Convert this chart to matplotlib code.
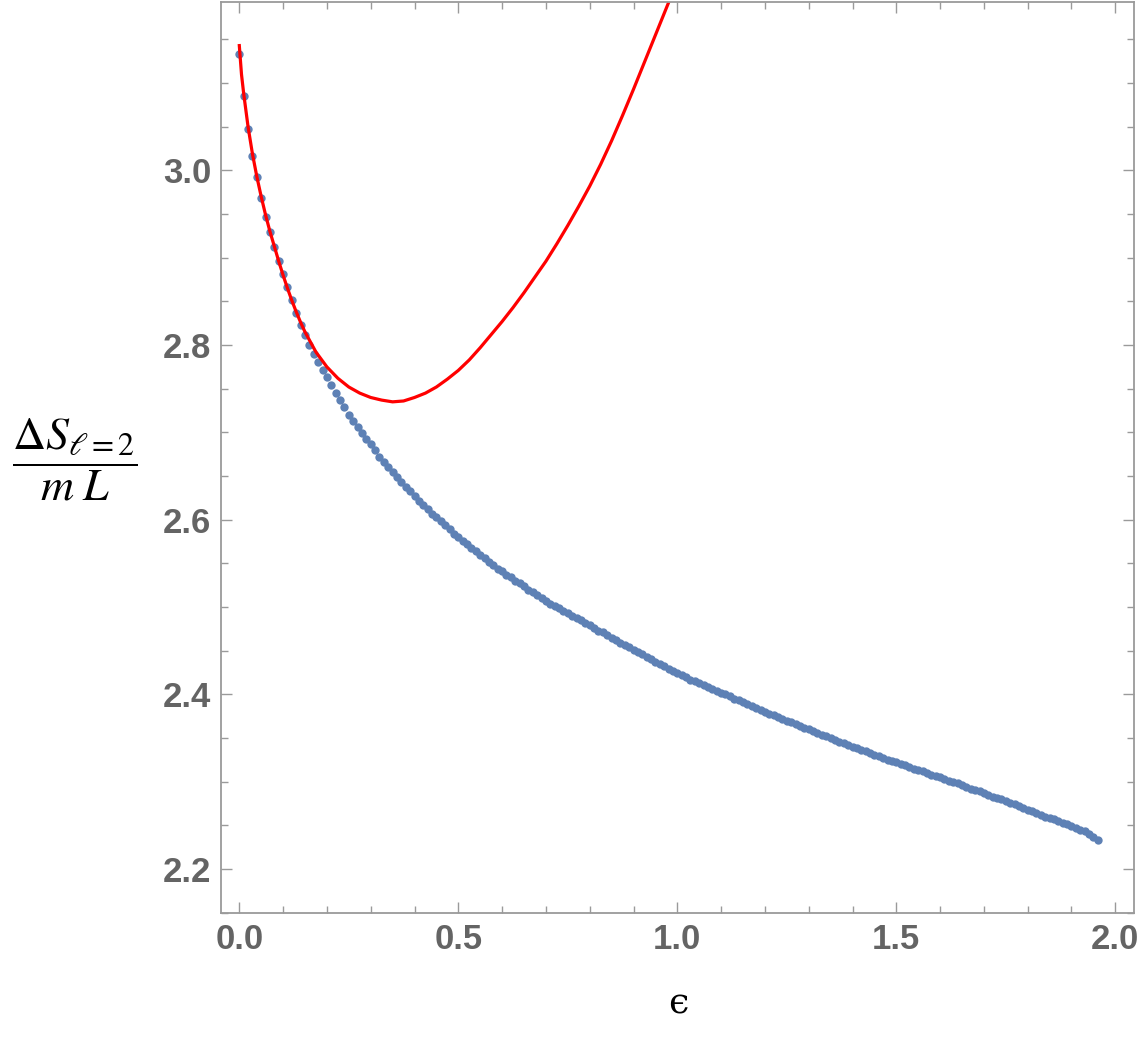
import numpy as np
import matplotlib.pyplot as plt
from matplotlib.ticker import MultipleLocator

# numerical data (blue dots)
eps_num = [0.00, 0.01, 0.02, 0.03, 0.04, 0.05, 0.06, 0.07, 0.08, 0.09,
           0.10, 0.11, 0.12, 0.13, 0.14, 0.15, 0.16, 0.17, 0.18, 0.19,
           0.20, 0.21, 0.22, 0.23, 0.24, 0.25, 0.26, 0.27, 0.28, 0.29,
           0.30, 0.31, 0.32, 0.33, 0.34, 0.35, 0.36, 0.37, 0.38, 0.39,
           0.40, 0.41, 0.42, 0.43, 0.44, 0.45, 0.46, 0.47, 0.48, 0.49,
           0.50, 0.51, 0.52, 0.53, 0.54, 0.55, 0.56, 0.57, 0.58, 0.59,
           0.60, 0.61, 0.62, 0.63, 0.64, 0.65, 0.66, 0.67, 0.68, 0.69,
           0.70, 0.71, 0.72, 0.73, 0.74, 0.75, 0.76, 0.77, 0.78, 0.79,
           0.80, 0.81, 0.82, 0.83, 0.84, 0.85, 0.86, 0.87, 0.88, 0.89,
           0.90, 0.91, 0.92, 0.93, 0.94, 0.95, 0.96, 0.97, 0.98, 0.99,
           1.00, 1.01, 1.02, 1.03, 1.04, 1.05, 1.06, 1.07, 1.08, 1.09,
           1.10, 1.11, 1.12, 1.13, 1.14, 1.15, 1.16, 1.17, 1.18, 1.19,
           1.20, 1.21, 1.22, 1.23, 1.24, 1.25, 1.26, 1.27, 1.28, 1.29,
           1.30, 1.31, 1.32, 1.33, 1.34, 1.35, 1.36, 1.37, 1.38, 1.39,
           1.40, 1.41, 1.42, 1.43, 1.44, 1.45, 1.46, 1.47, 1.48, 1.49,
           1.50, 1.51, 1.52, 1.53, 1.54, 1.55, 1.56, 1.57, 1.58, 1.59,
           1.60, 1.61, 1.62, 1.63, 1.64, 1.65, 1.66, 1.67, 1.68, 1.69,
           1.70, 1.71, 1.72, 1.73, 1.74, 1.75, 1.76, 1.77, 1.78, 1.79,
           1.80, 1.81, 1.82, 1.83, 1.84, 1.85, 1.86, 1.87, 1.88, 1.89,
           1.90, 1.91, 1.92, 1.93, 1.94, 1.95, 1.96]
dS_num = [3.133, 3.085, 3.047, 3.017, 2.992, 2.968, 2.947, 2.930, 2.912, 2.896,
          2.881, 2.866, 2.852, 2.837, 2.823, 2.811, 2.800, 2.790, 2.781, 2.772,
          2.763, 2.754, 2.745, 2.737, 2.729, 2.720, 2.713, 2.706, 2.699, 2.693,
          2.687, 2.680, 2.672, 2.666, 2.660, 2.655, 2.649, 2.643, 2.638, 2.633,
          2.627, 2.622, 2.617, 2.612, 2.607, 2.603, 2.599, 2.594, 2.589, 2.584,
          2.580, 2.576, 2.572, 2.568, 2.564, 2.560, 2.556, 2.552, 2.548, 2.544,
          2.541, 2.537, 2.534, 2.530, 2.527, 2.524, 2.520, 2.517, 2.514, 2.510,
          2.507, 2.504, 2.501, 2.499, 2.496, 2.493, 2.490, 2.487, 2.485, 2.482,
          2.479, 2.476, 2.473, 2.471, 2.468, 2.465, 2.462, 2.459, 2.457, 2.454,
          2.451, 2.448, 2.446, 2.443, 2.440, 2.437, 2.435, 2.432, 2.429, 2.427,
          2.424, 2.422, 2.420, 2.417, 2.415, 2.413, 2.411, 2.409, 2.406, 2.404,
          2.402, 2.400, 2.398, 2.395, 2.393, 2.391, 2.389, 2.387, 2.384, 2.382,
          2.380, 2.378, 2.376, 2.374, 2.372, 2.370, 2.368, 2.366, 2.364, 2.362,
          2.360, 2.358, 2.356, 2.354, 2.352, 2.350, 2.348, 2.346, 2.344, 2.342,
          2.340, 2.338, 2.336, 2.335, 2.333, 2.331, 2.329, 2.327, 2.325, 2.324,
          2.322, 2.320, 2.319, 2.317, 2.315, 2.313, 2.312, 2.310, 2.308, 2.307,
          2.305, 2.303, 2.301, 2.300, 2.298, 2.296, 2.294, 2.292, 2.291, 2.289,
          2.287, 2.285, 2.283, 2.281, 2.280, 2.278, 2.276, 2.274, 2.272, 2.270,
          2.268, 2.266, 2.264, 2.262, 2.260, 2.258, 2.257, 2.255, 2.253, 2.251,
          2.249, 2.247, 2.245, 2.243, 2.240, 2.237, 2.233]

# small-eps approximation (red curve)
eps_approx = [0.00, 0.005, 0.01, 0.02, 0.03, 0.04, 0.05, 0.06, 0.07, 0.08,
              0.09, 0.10, 0.11, 0.12, 0.13, 0.14, 0.15, 0.175, 0.20, 0.225,
              0.25, 0.275, 0.30, 0.325, 0.35, 0.375, 0.40, 0.425, 0.45, 0.475,
              0.50, 0.525, 0.55, 0.575, 0.60, 0.625, 0.65, 0.675, 0.70, 0.725,
              0.75, 0.775, 0.80, 0.825, 0.85, 0.875, 0.90, 0.925, 0.95, 0.975,
              1.00]
dS_approx = [3.143, 3.110, 3.088, 3.050, 3.019, 2.993, 2.970, 2.949, 2.930, 2.913,
             2.896, 2.880, 2.865, 2.851, 2.838, 2.826, 2.815, 2.792, 2.775, 2.762,
             2.752, 2.745, 2.740, 2.737, 2.735, 2.736, 2.740, 2.745, 2.752, 2.761,
             2.771, 2.783, 2.797, 2.812, 2.827, 2.843, 2.860, 2.878, 2.896, 2.916,
             2.937, 2.959, 2.982, 3.007, 3.034, 3.063, 3.093, 3.124, 3.155, 3.186,
             3.217]

xticks = [0.0, 0.5, 1.0, 1.5, 2.0]
yticks = [2.2, 2.4, 2.6, 2.8, 3.0]

frame_col = '#9a9a9a'
label_col = '#646464'

plt.rcParams['mathtext.fontset'] = 'stix'

fig = plt.figure(figsize=(11.44, 10.42), dpi=100)
ax = fig.add_axes([221/1144, 1 - 913/1042, (1134 - 221)/1144, (913 - 1.5)/1042])

ax.plot(eps_num, dS_num, 'o', color='#5E81B5', markersize=6.0, markeredgewidth=0)
ax.plot(eps_approx, dS_approx, '-', color='#FF0000', linewidth=2.3)

ax.set_xlim(-0.0418, 2.0427)
ax.set_ylim(2.1496, 3.1935)

ax.set_xticks(xticks)
ax.set_xticklabels(['%.1f' % v for v in xticks])
ax.set_yticks(yticks)
ax.set_yticklabels(['%.1f' % v for v in yticks])
ax.xaxis.set_minor_locator(MultipleLocator(0.1))
ax.yaxis.set_minor_locator(MultipleLocator(0.05))

ax.tick_params(which='both', direction='in', top=True, right=True,
               color=frame_col, labelcolor=label_col, width=1.0)
ax.tick_params(which='major', length=8, pad=7)
ax.tick_params(which='minor', length=5)
for lab in ax.get_xticklabels() + ax.get_yticklabels():
    lab.set_fontfamily('Liberation Sans')
    lab.set_fontweight('bold')
    lab.set_fontsize(25)

for sp in ax.spines.values():
    sp.set_color(frame_col)
    sp.set_linewidth(1.3)

fig.text(75/1144, 1 - 460/1042, r'$\dfrac{\Delta S_{\ell=2}}{m\;L}$',
         fontsize=33, ha='center', va='center', color='black')
fig.text(678/1144, 1 - 1003/1042, '\u03f5', fontsize=26, family='DejaVu Serif',
         ha='center', va='center', color='black')

fig.savefig('out.png', dpi=100)
